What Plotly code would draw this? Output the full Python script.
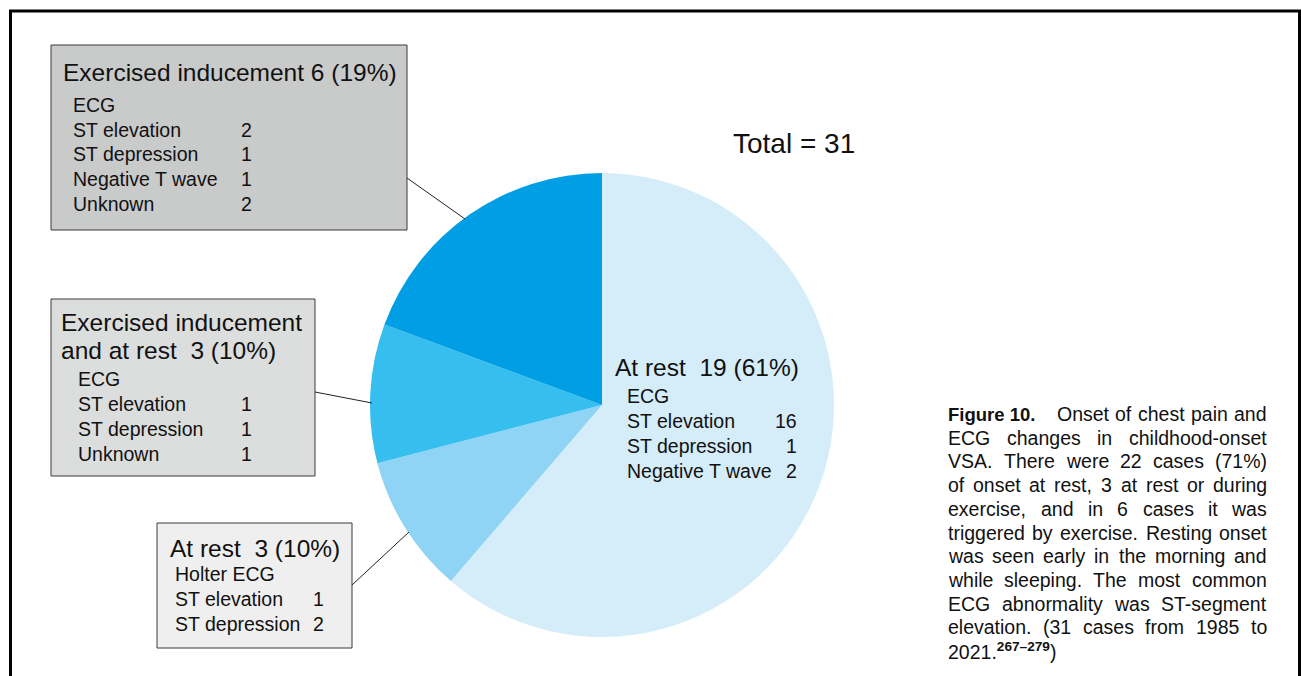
import plotly.graph_objects as go

# ---------------- data ----------------
slice_names = ["At rest", "At rest (Holter)", "Exercised inducement and at rest", "Exercised inducement"]
slice_values = [19, 3, 3, 6]
slice_colors = ["#D5ECF9", "#8FD4F5", "#36BEEE", "#009FE5"]
total = sum(slice_values)

rest19_items = ["ECG", "ST elevation", "ST depression", "Negative T wave"]
rest19_counts = ["", "16", "1", "2"]

ex6_items = ["ECG", "ST elevation", "ST depression", "Negative T wave", "Unknown"]
ex6_counts = ["", "2", "1", "1", "2"]

exrest_items = ["ECG", "ST elevation", "ST depression", "Unknown"]
exrest_counts = ["", "1", "1", "1"]

rest3_items = ["Holter ECG", "ST elevation", "ST depression"]
rest3_counts = ["", "1", "2"]

caption_lines = [
    "ECG changes in childhood-onset",
    "VSA. There were 22 cases (71%)",
    "of onset at rest, 3 at rest or during",
    "exercise, and in 6 cases it was",
    "triggered by exercise. Resting onset",
    "was seen early in the morning and",
    "while sleeping. The most common",
    "ECG abnormality was ST-segment",
    "elevation. (31 cases from 1985 to",
]
caption_first_bold = "Figure 10."
caption_first_rest = "Onset of chest pain and"
caption_last = "2021.<sup><b>267–279</b></sup>)"

# ---------------- layout helpers ----------------
W, H = 1301, 676
FONT = "Liberation Sans, Arial, Helvetica, sans-serif"

def fx(px):
    return px / W

def fy(py):
    return 1 - py / H

def pct(v):
    return round(100 * v / total)

annotations = []
shapes = []

def text(x, y, s, size, anchor="left", bold=False, color="#111111"):
    annotations.append(dict(
        x=fx(x), y=fy(y), xref="paper", yref="paper", text=("<b>%s</b>" % s) if bold else s,
        showarrow=False, xanchor=anchor, yanchor="middle",
        font=dict(family=FONT, size=size, color=color), borderpad=0, borderwidth=0,
    ))

def rect(x0, y0, x1, y1, fill):
    shapes.append(dict(type="rect", xref="paper", yref="paper",
                       x0=fx(x0), y0=fy(y0), x1=fx(x1), y1=fy(y1),
                       fillcolor=fill, line=dict(color="#3a3a3a", width=1)))

def line(x0, y0, x1, y1, w=1, color="#222222"):
    shapes.append(dict(type="line", xref="paper", yref="paper",
                       x0=fx(x0), y0=fy(y0), x1=fx(x1), y1=fy(y1),
                       line=dict(color=color, width=w)))

# Helvetica / Arial advance widths (per 1000 em) for justification
AW = {' ': 278, '!': 278, '(': 333, ')': 333, ',': 278, '-': 333, '.': 278, '%': 889, ':': 278,
      'A': 667, 'B': 667, 'C': 722, 'D': 722, 'E': 667, 'F': 611, 'G': 778, 'H': 722, 'I': 278,
      'J': 500, 'K': 667, 'L': 556, 'M': 833, 'N': 722, 'O': 778, 'P': 667, 'Q': 778, 'R': 722,
      'S': 667, 'T': 611, 'U': 722, 'V': 667, 'W': 944, 'X': 667, 'Y': 667, 'Z': 611,
      'a': 556, 'b': 556, 'c': 500, 'd': 556, 'e': 556, 'f': 278, 'g': 556, 'h': 556, 'i': 222,
      'j': 222, 'k': 500, 'l': 222, 'm': 833, 'n': 556, 'o': 556, 'p': 556, 'q': 556, 'r': 333,
      's': 500, 't': 278, 'u': 556, 'v': 500, 'w': 722, 'x': 500, 'y': 500, 'z': 500}
for d in "0123456789":
    AW[d] = 556

def tw(s, size):
    return sum(AW.get(c, 556) for c in s) * size / 1000.0

def justified(s, x0, x1, y, size):
    words = s.split(" ")
    widths = [tw(w, size) for w in words]
    sp = tw(" ", size)
    gap = (x1 - x0 - sum(widths)) / (len(words) - 1)
    if gap < sp:
        gap = sp
        x0 = x1 - sum(widths) - gap * (len(words) - 1)
    x = x0
    for i, w in enumerate(words):
        if i == len(words) - 1:
            text(x1, y, w, size, anchor="right")
        else:
            text(x, y, w, size)
        x += widths[i] + gap

# ---------------- frame ----------------
line(9, 11, W, 11, w=3, color="#000000")
line(10.5, 11, 10.5, H, w=3, color="#000000")
line(1299.5, 11, 1299.5, H, w=3, color="#000000")

# ---------------- pie ----------------
cx, cy, r = 602, 405, 232
fig = go.Figure(go.Pie(
    labels=slice_names, values=slice_values, sort=False, direction="clockwise", rotation=0,
    marker=dict(colors=slice_colors, line=dict(width=0)), textinfo="none", hoverinfo="label+value",
    domain=dict(x=[fx(cx - r), fx(cx + r)], y=[fy(cy + r), fy(cy - r)]), showlegend=False,
))

# ---------------- boxes ----------------
TS, IS = 24.5, 19.5

# Exercised inducement 6
rect(51, 45, 407, 230, "#C9CACA")
text(63, 73, "Exercised inducement %d (%d%%)" % (slice_values[3], pct(slice_values[3])), TS)
for i, (it, c) in enumerate(zip(ex6_items, ex6_counts)):
    y = 105 + i * 24.7
    text(73, y, it, IS)
    if c:
        text(241, y, c, IS)
line(407, 178, 465, 219)

# Exercised inducement and at rest 3
rect(51, 299, 315, 476, "#DCDDDD")
text(61, 322, "Exercised inducement", TS)
text(61, 350, "and at rest\u00a0 %d (%d%%)" % (slice_values[2], pct(slice_values[2])), TS)
for i, (it, c) in enumerate(zip(exrest_items, exrest_counts)):
    y = 379 + i * 25
    text(78, y, it, IS)
    if c:
        text(241, y, c, IS)
line(315, 392, 372, 403)

# At rest 3
rect(157, 523, 352, 648, "#EFEFEF")
text(170, 548, "At rest\u00a0 %d (%d%%)" % (slice_values[1], pct(slice_values[1])), TS)
for i, (it, c) in enumerate(zip(rest3_items, rest3_counts)):
    y = 574 + i * 25
    text(175, y, it, IS)
    if c:
        text(313, y, c, IS)
line(352, 585, 409, 532)

# At rest 19 (inside pie)
text(615, 367, "At rest\u00a0 %d (%d%%)" % (slice_values[0], pct(slice_values[0])), TS)
for i, (it, c) in enumerate(zip(rest19_items, rest19_counts)):
    y = 396 + i * 25
    text(627, y, it, IS)
    if c:
        text(797, y, c, IS, anchor="right")

# Total
text(733, 143, "Total = %d" % total, 28)

# ---------------- caption ----------------
CS = 19.5
LX0, LX1 = 948, 1267
y0, dy = 414, 23.7
text(LX0, y0, caption_first_bold, 18.5, bold=True)
justified(caption_first_rest, 1057, LX1, y0, CS)
for i, ln in enumerate(caption_lines):
    justified(ln, LX0, LX1, y0 + (i + 1) * dy, CS)
text(LX0, y0 + (len(caption_lines) + 1) * dy, caption_last, CS)

fig.update_layout(
    width=W, height=H, margin=dict(l=0, r=0, t=0, b=0),
    paper_bgcolor="white", plot_bgcolor="white",
    annotations=annotations, shapes=shapes,
    font=dict(family=FONT, color="#111111"),
)
fig.write_html("out.html")
